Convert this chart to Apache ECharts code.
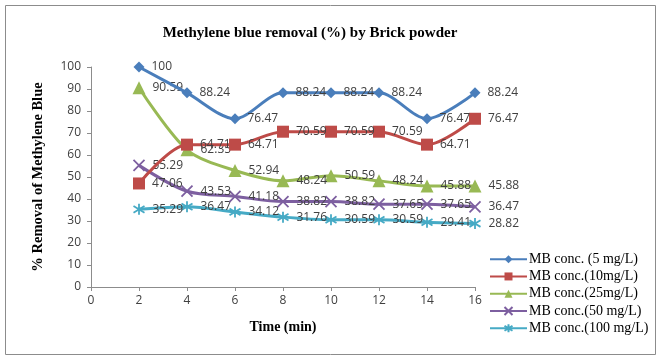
<!DOCTYPE html>
<html><head><meta charset="utf-8">
<script src="https://cdn.jsdelivr.net/npm/echarts@6/dist/echarts.min.js"></script>
<style>html,body{margin:0;padding:0;background:#fff}#c{width:660px;height:361px}</style>
</head><body><div id="c"></div>
<script>
const times = [2, 4, 6, 8, 10, 12, 14, 16];
const seriesNames = ['MB conc. (5 mg/L)', 'MB conc.(10mg/L)', 'MB conc.(25mg/L)', 'MB conc.(50 mg/L)', 'MB conc.(100 mg/L)'];
const mb5 = [100, 88.24, 76.47, 88.24, 88.24, 88.24, 76.47, 88.24];
const mb10 = [47.06, 64.71, 64.71, 70.59, 70.59, 70.59, 64.71, 76.47];
const mb25 = [90.59, 62.35, 52.94, 48.24, 50.59, 48.24, 45.88, 45.88];
const mb50 = [55.29, 43.53, 41.18, 38.82, 38.82, 37.65, 37.65, 36.47];
const mb100 = [35.29, 36.47, 34.12, 31.76, 30.59, 30.59, 29.41, 28.82];
const xTicks = [0, 2, 4, 6, 8, 10, 12, 14, 16];
const yTicks = [0, 10, 20, 30, 40, 50, 60, 70, 80, 90, 100];

const colors = ['#4A7EBB', '#BE4B48', '#98B954', '#7D5FA0', '#46AAC5'];
const symbols = [
  'diamond', 'rect', 'triangle',
  'path://M0,0 L10,10 M10,0 L0,10',
  'path://M5,0 L5,10 M0,2 L10,8 M0,8 L10,2'
];
const sizes = [11, 12, 13, 11, 11];
const allData = [mb5, mb10, mb25, mb50, mb100];

const chart = echarts.init(document.getElementById('c'));
chart.setOption({
  animation: false,
  backgroundColor: '#fff',
  title: {
    text: 'Methylene blue removal (%) by Brick powder',
    left: 305, top: 21, textAlign: 'center',
    textStyle: { fontFamily: 'Liberation Serif', fontWeight: 'bold', fontSize: 15, color: '#000' }
  },
  graphic: [{
    type: 'rect', shape: { x: 5.5, y: 5.5, width: 650, height: 349 },
    style: { fill: null, stroke: '#8c8c8c', lineWidth: 1 }, silent: true
  }],
  legend: {
    orient: 'vertical', left: 489, top: 252,
    itemWidth: 37, itemHeight: 10, itemGap: 3, padding: 0,
    textStyle: { fontFamily: 'Liberation Serif', fontSize: 14, color: '#000', lineHeight: 14.3, padding: [0, 0, 0, -3] },
    data: seriesNames
  },
  grid: { left: 91, right: 185, top: 67, bottom: 74 },
  xAxis: {
    type: 'value', min: xTicks[0], max: xTicks[xTicks.length - 1], interval: 2,
    name: 'Time (min)', nameLocation: 'middle', nameGap: 33,
    nameTextStyle: { fontFamily: 'Liberation Serif', fontWeight: 'bold', fontSize: 14, color: '#000' },
    axisLine: { lineStyle: { color: '#8c8c8c' } },
    axisTick: { lineStyle: { color: '#8c8c8c' }, length: 4 },
    axisLabel: { color: '#404040', fontFamily: 'Open Sans', fontSize: 12, margin: 8 },
    splitLine: { show: false }
  },
  yAxis: {
    type: 'value', min: yTicks[0], max: yTicks[yTicks.length - 1], interval: 10,
    name: '% Removal of Methylene Blue', nameLocation: 'middle', nameGap: 45, nameRotate: 90,
    nameTextStyle: { fontFamily: 'Liberation Serif', fontWeight: 'bold', fontSize: 14.5, color: '#000' },
    axisLine: { show: true, lineStyle: { color: '#8c8c8c' } },
    axisTick: { show: true, lineStyle: { color: '#8c8c8c' }, length: 4 },
    axisLabel: { color: '#404040', fontFamily: 'Open Sans', fontSize: 12, margin: 10 },
    splitLine: { show: false }
  },
  series: allData.map((d, i) => ({
    name: seriesNames[i], type: 'line', smooth: 0.3,
    data: d.map((v, j) => [times[j], v]),
    symbol: symbols[i], symbolSize: sizes[i],
    lineStyle: { color: colors[i], width: 3 },
    itemStyle: (i >= 3)
      ? { color: colors[i], borderColor: colors[i], borderWidth: 1.8 }
      : { color: colors[i] },
    label: {
      show: true, position: 'right', distance: 7,
      fontFamily: 'Open Sans', fontSize: 12, color: '#404040',
      formatter: p => p.value[1].toFixed(2).replace(/\.00$/, '').replace(/(\.\d)0$/, '$1')
    },
    z: 2 + (4 - i)
  }))
});
</script></body></html>
